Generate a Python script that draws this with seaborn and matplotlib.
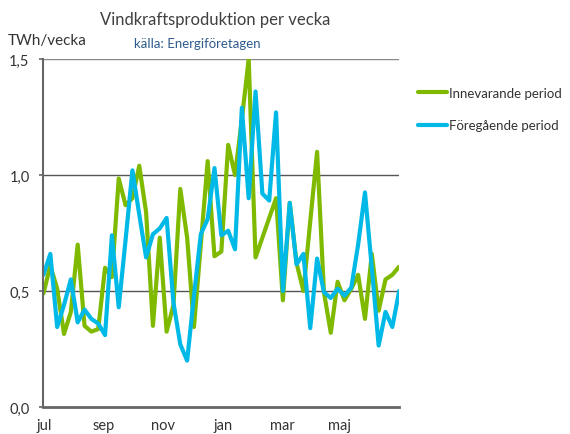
import pandas as pd
import matplotlib.pyplot as plt
import seaborn as sns

# veckovärden, TWh/vecka (juli -> juni)
innevarande = [0.49, 0.61, 0.51, 0.315, 0.41, 0.70, 0.35, 0.325, 0.336, 0.60,
               0.56, 0.985, 0.87, 0.90, 1.04, 0.84, 0.35, 0.73, 0.325, 0.44,
               0.94, 0.73, 0.345, 0.70, 1.06, 0.65, 0.67, 1.13, 1.00, 1.24,
               1.50, 0.645, 0.73, 0.815, 0.90, 0.46, 0.88, 0.62, 0.50, 0.80,
               1.10, 0.495, 0.32, 0.54, 0.46, 0.51, 0.57, 0.38, 0.66, 0.415,
               0.55, 0.57, 0.605]
foregaende = [0.57, 0.66, 0.345, 0.44, 0.55, 0.365, 0.42, 0.38, 0.36, 0.31,
              0.74, 0.43, 0.72, 1.02, 0.83, 0.645, 0.745, 0.77, 0.815, 0.45,
              0.27, 0.20, 0.48, 0.745, 0.81, 1.03, 0.74, 0.76, 0.68, 1.29,
              0.90, 1.36, 0.92, 0.89, 1.27, 0.50, 0.88, 0.615, 0.66, 0.34,
              0.64, 0.495, 0.47, 0.51, 0.48, 0.515, 0.70, 0.925, 0.60, 0.265,
              0.41, 0.345, 0.50]
serier = ["Innevarande period", "Föregående period"]
manader = ["jul", "sep", "nov", "jan", "mar", "maj"]
manad_pos = [0.1, 8.8, 17.5, 26.2, 34.9, 43.3]
y_ticks = [0.0, 0.5, 1.0, 1.5]
y_labels = ["0,0", "0,5", "1,0", "1,5"]

df = pd.DataFrame({
    "vecka": list(range(len(innevarande))) * 2,
    "TWh": innevarande + foregaende,
    "period": [serier[0]] * len(innevarande) + [serier[1]] * len(foregaende),
})

sns.set_theme(style="white")
plt.rcParams['font.family'] = ['Lato', 'DejaVu Sans']

fig = plt.figure(figsize=(5.7, 4.35), dpi=100)
ax = fig.add_axes([0.0763, 0.062, 0.624, 0.800])

sns.lineplot(data=df, x="vecka", y="TWh", hue="period", hue_order=serier,
             palette=["#7fba00", "#00b9e6"], linewidth=3.0, ax=ax, legend=False)

ax.set_xlim(0, len(innevarande) - 1)
ax.set_ylim(0, 1.5)
ax.set_yticks(y_ticks)
ax.set_yticklabels(y_labels)
ax.set_xticks(manad_pos)
ax.set_xticklabels(manader)
ax.set_xlabel("")
ax.set_ylabel("")
for v in [0.5, 1.0, 1.5]:
    ax.axhline(v, color="#555555" if v < 1.5 else "#888888", lw=1.0, zorder=0)

for s in ["top", "right"]:
    ax.spines[s].set_visible(False)
ax.spines["left"].set_color("#666666")
ax.spines["left"].set_linewidth(1.5)
ax.spines["bottom"].set_color("#666666")
ax.spines["bottom"].set_linewidth(2.0)
ax.tick_params(axis="y", which="major", left=True, length=3, width=1.2,
               color="#666666", labelsize=10.5, labelcolor="#333333", pad=7)
ax.tick_params(axis="x", bottom=False, labelsize=10.5, labelcolor="#333333", pad=2)

fig.text(0.377, 0.955, "Vindkraftsproduktion per vecka", ha="center", va="center",
         fontsize=12, color="#404040")
fig.text(0.014, 0.905, "TWh/vecka", ha="left", va="center", fontsize=11, color="#333333")
fig.text(0.347, 0.898, "källa: Energiföretagen", ha="center", va="center",
         fontsize=9.5, color="#2f5b8c")

handles = [plt.Line2D([], [], color=c, lw=3.0) for c in ["#7fba00", "#00b9e6"]]
fig.legend(handles, serier, loc="upper left", bbox_to_anchor=(0.712, 0.825),
           frameon=False, fontsize=9.5, handlelength=2.2, handletextpad=0.2,
           labelspacing=1.55, labelcolor="#333333")

fig.savefig("out.png", dpi=100)
